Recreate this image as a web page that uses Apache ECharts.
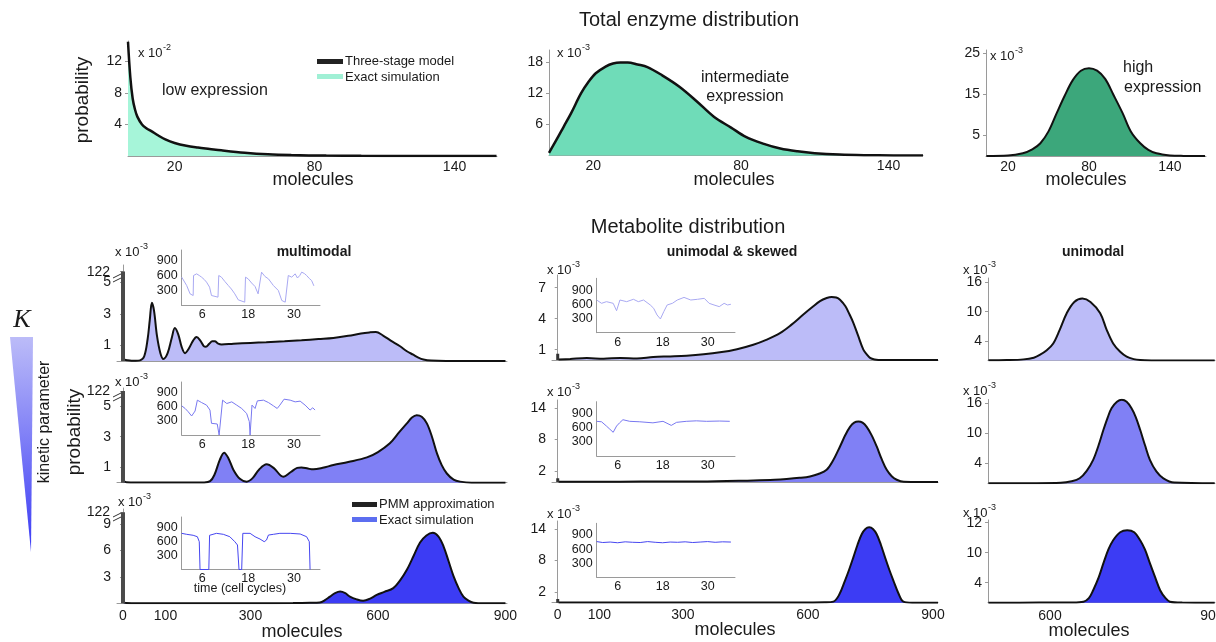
<!DOCTYPE html>
<html>
<head>
<meta charset="utf-8">
<title>Total enzyme and metabolite distributions</title>
<script src="https://cdn.jsdelivr.net/npm/echarts@6/dist/echarts.min.js"></script>
<style>
  html, body { margin: 0; padding: 0; background: #fff; }
  #chart { width: 1216px; height: 642px; }
</style>
</head>
<body>
<div id="chart"></div>
<script>
// ---- total enzyme distribution (probability in units of the axis factor) ----
var lowM  = [0, 1, 2, 3, 4, 6, 8, 10, 13, 16, 20, 25, 30, 35, 40, 50, 60, 70, 85, 100, 120, 140, 158];
var lowP  = [14.5, 10.0, 7.3, 5.9, 5.0, 4.0, 3.5, 3.15, 2.6, 2.1, 1.65, 1.3, 1.08, 0.9, 0.72, 0.42, 0.22, 0.12, 0.05, 0.02, 0.01, 0, 0];
var midM  = [2, 5, 8, 11, 15, 18, 21, 25, 28, 31, 34, 38, 42, 48, 55, 62, 69, 76, 82, 89, 96, 103, 110, 120, 130, 142, 154];
var midP  = [0.5, 3.0, 5.6, 8.2, 12.0, 14.2, 15.9, 17.2, 17.8, 18.0, 18.0, 17.6, 17.1, 15.5, 13.3, 10.5, 7.5, 5.4, 3.6, 2.3, 1.35, 0.8, 0.45, 0.18, 0.06, 0.01, 0];
var highM = [4, 20, 31, 38, 44, 50, 56, 62, 68, 74, 80, 86, 92, 98, 105, 111, 118, 124, 130, 140, 150, 166];
var highP = [0, 0.1, 0.66, 1.6, 3.1, 6.0, 10.4, 14.7, 18.5, 20.8, 21.4, 20.8, 18.8, 15.0, 10.4, 6.0, 3.1, 1.5, 0.66, 0.15, 0.03, 0];

// ---- metabolite distribution, left column (multimodal) ----
var multi1M = [2, 10, 20, 30, 40, 50, 58, 63, 68, 73, 80, 88, 95, 105, 115, 122, 130, 138, 146, 155, 165, 173, 182, 190, 195, 203, 210, 216, 224, 232, 260, 300, 337, 380, 420, 460, 495, 530, 560, 580, 595, 612, 630, 652, 668, 683, 695, 707, 725, 760, 820, 900];
var multi1P = [0.1, 0.05, 0.02, 0.02, 0.04, 0.3, 1.4, 2.6, 3.7, 3.2, 1.6, 0.5, 0.13, 0.5, 1.5, 2.1, 1.7, 0.9, 0.5, 0.8, 1.3, 1.53, 1.3, 0.95, 0.9, 1.1, 1.25, 1.25, 1.1, 1.05, 1.1, 1.15, 1.19, 1.25, 1.32, 1.4, 1.47, 1.6, 1.75, 1.82, 1.85, 1.62, 1.3, 0.94, 0.62, 0.4, 0.22, 0.1, 0.03, 0, 0, 0];
var multi2M = [2, 8, 20, 60, 100, 150, 190, 205, 215, 228, 238, 248, 260, 275, 291, 305, 320, 338, 355, 377, 395, 410, 420, 435, 448, 470, 495, 530, 574, 600, 628, 650, 668, 680, 691, 703, 715, 727, 739, 750, 762, 778, 793, 820, 900];
var multi2P = [0.1, 0.03, 0.02, 0.01, 0.01, 0.01, 0.02, 0.1, 0.5, 1.5, 1.96, 1.6, 0.83, 0.25, 0.07, 0.3, 0.85, 1.2, 0.95, 0.39, 0.7, 0.97, 1.0, 0.92, 0.87, 0.97, 1.15, 1.35, 1.65, 2.0, 2.57, 3.3, 3.87, 4.25, 4.4, 4.3, 3.87, 3.0, 1.9, 1.15, 0.6, 0.2, 0.07, 0, 0];
var multi3M = [2, 8, 20, 100, 200, 300, 400, 440, 463, 475, 487, 499, 511, 523, 534, 550, 565, 580, 597, 615, 636, 652, 668, 684, 699, 714, 729, 742, 754, 766, 778, 790, 801, 813, 825, 850, 900];
var multi3P = [0.1, 0.02, 0.01, 0.01, 0.01, 0.01, 0.02, 0.05, 0.1, 0.35, 0.76, 1.15, 1.33, 1.15, 0.76, 0.45, 0.3, 0.5, 0.95, 1.3, 1.72, 2.6, 3.8, 5.4, 6.9, 7.7, 8.0, 7.6, 6.5, 4.8, 3.06, 1.7, 0.76, 0.3, 0.07, 0, 0];

// ---- middle column (unimodal & skewed) ----
var skew1M = [2, 30, 70, 110, 150, 190, 229, 270, 309, 350, 389, 430, 469, 500, 533, 560, 589, 610, 629, 645, 657, 668, 677, 690, 700, 709, 720, 733, 741, 749, 760, 780, 820, 912];
var skew1P = [0.05, 0.1, 0.19, 0.12, 0.2, 0.15, 0.29, 0.35, 0.42, 0.55, 0.74, 1.05, 1.48, 1.95, 2.6, 3.4, 4.4, 5.1, 5.7, 6.0, 6.1, 6.05, 5.84, 5.2, 4.4, 3.6, 2.4, 1.0, 0.55, 0.2, 0.05, 0, 0, 0];
var skew2M = [2, 100, 200, 340, 469, 520, 549, 580, 605, 625, 645, 660, 677, 690, 701, 711, 721, 731, 741, 753, 765, 777, 789, 801, 813, 830, 870, 912];
var skew2P = [0.05, 0.05, 0.08, 0.1, 0.3, 0.42, 0.56, 0.78, 1.05, 1.5, 2.3, 4.0, 6.7, 8.9, 10.4, 11.2, 11.4, 11.2, 10.4, 8.8, 6.7, 4.3, 2.3, 1.1, 0.43, 0.05, 0, 0];
var skew3M = [2, 200, 400, 600, 640, 661, 675, 689, 699, 709, 719, 729, 738, 747, 756, 765, 775, 785, 795, 805, 817, 829, 850, 912];
var skew3P = [0.05, 0.05, 0.05, 0.05, 0.08, 0.2, 1.5, 4.2, 6.3, 8.6, 11.0, 13.0, 14.0, 14.3, 14.0, 13.0, 11.0, 8.6, 6.3, 4.2, 1.8, 0.2, 0, 0];

// ---- right column (unimodal) ----
var uni1M = [486, 520, 551, 570, 581, 594, 606, 618, 631, 645, 660, 675, 693, 705, 717, 730, 742, 755, 767, 790, 830, 905];
var uni1P = [0.05, 0.1, 0.25, 0.6, 1.15, 2.1, 3.5, 6.3, 9.7, 12.0, 12.7, 12.0, 9.7, 6.3, 3.5, 1.8, 0.8, 0.3, 0.1, 0.02, 0, 0];
var uni2M = [486, 560, 620, 640, 655, 668, 680, 690, 699, 707, 714, 724, 733, 742, 751, 759, 767, 776, 785, 797, 810, 830, 905];
var uni2P = [0, 0.02, 0.1, 0.4, 1.0, 2.5, 4.7, 7.6, 10.7, 13.2, 15.0, 16.3, 16.7, 16.3, 15.0, 13.2, 10.7, 7.6, 4.7, 2.4, 1.0, 0.15, 0];
var uni3M = [486, 580, 640, 662, 672, 680, 690, 699, 708, 717, 730, 743, 756, 767, 776, 785, 795, 804, 814, 822, 845, 905];
var uni3P = [0, 0.02, 0.05, 0.2, 0.9, 2.5, 5.0, 7.9, 10.6, 12.5, 14.1, 14.5, 14.1, 12.5, 10.6, 7.9, 5.0, 2.5, 0.9, 0.2, 0.02, 0];

// spike at zero molecules (left column values sit above the axis break)
var spikeLeft = [122, 122, 122];
var spikeMid  = [0.6, 0.7, 0.7];

// ---- inset time courses (time in cell cycles, molecules) ----
var ins1T = [0.6, 1.9, 2.8, 3.6, 3.7, 4.5, 5.2, 5.8, 6.5, 7.1, 7.9, 8.4, 10.1, 10.3, 11, 11.9, 12.8, 13.6, 14.5, 15.4, 17.1, 17.3, 18, 18.9, 19.8, 20.6, 21.5, 22.4, 23.3, 24.6, 25.9, 26.8, 27.7, 28.5, 29.4, 30.3, 30.9, 31.5, 32, 32.7, 33.3, 34.0, 34.6, 35.2];
var ins1V = [567, 400, 233, 200, 600, 633, 600, 567, 520, 467, 367, 200, 167, 600, 567, 480, 400, 330, 233, 113, 67, 567, 533, 450, 380, 233, 667, 580, 533, 400, 300, 100, 67, 600, 567, 633, 550, 600, 667, 640, 600, 540, 500, 393];
var ins2T = [0.6, 1.5, 2.3, 3.2, 3.7, 4.1, 4.7, 5.8, 7.1, 8.0, 8.4, 9.9, 10.2, 10.4, 10.8, 11.3, 12.4, 13.7, 15, 16.3, 17.6, 18.3, 18.5, 18.8, 19, 19.8, 20.4, 22, 23.3, 24.6, 25.6, 26.3, 27.4, 29, 30.3, 31.6, 32.9, 34.2, 34.9, 35.5];
var ins2V = [625, 568, 498, 407, 407, 513, 746, 695, 640, 534, 250, 236, 236, 0, 0, 746, 674, 710, 640, 568, 462, 286, 0, 0, 640, 568, 731, 746, 695, 625, 568, 640, 767, 746, 710, 725, 640, 534, 583, 534];
var ins3T = [0.6, 1.9, 3.6, 4.7, 5.2, 5.4, 7.7, 7.9, 9.7, 11.5, 13.2, 14.5, 15.2, 15.4, 15.6, 16.3, 16.6, 18.5, 19.8, 21.1, 22.2, 22.8, 23.3, 24.6, 26.3, 29, 31.6, 33.3, 34, 34.2];
var ins3V = [779, 758, 737, 706, 599, 0, 0, 737, 779, 758, 706, 599, 528, 510, 0, 0, 779, 779, 706, 656, 599, 635, 742, 758, 779, 779, 765, 706, 599, 0];
var ins4T = [0.4, 1.7, 3, 4.8, 5.7, 6.6, 8.4, 10.2, 11.5, 12.9, 14.7, 15.6, 16.5, 17.4, 18.3, 19.2, 20.6, 21.9, 23.7, 25.5, 27.3, 29.1, 30.4, 31.7, 33.1, 34.4, 35.3, 36.2];
var ins4V = [690, 620, 655, 620, 464, 690, 655, 705, 655, 690, 585, 515, 374, 290, 445, 585, 620, 690, 745, 690, 705, 725, 620, 585, 550, 620, 585, 600];
var ins5T = [0.4, 1.7, 3, 3.9, 4.8, 5.2, 5.7, 6.5, 7.4, 9.2, 11.9, 15.4, 18.1, 20.3, 21.7, 24.3, 27, 29.7, 33.2, 35.9];
var ins5V = [732, 722, 632, 566, 500, 540, 632, 700, 766, 732, 722, 700, 732, 646, 710, 732, 742, 732, 738, 732];
var ins6T = [0.4, 2, 4, 6, 8, 10, 12, 14, 16, 18, 20, 22, 24, 26, 28, 30, 32, 34, 36.2];
var ins6V = [760, 740, 750, 735, 755, 745, 740, 760, 745, 735, 750, 745, 755, 740, 750, 760, 745, 755, 750];

// tick labels
var enzymeTicks = [20, 80, 140];
var moleculeTicks = [0, 100, 300, 600, 900];
var rightTicks = [600, 900];
var insetXTicks = [6, 18, 30];
var insetYTicks = [300, 600, 900];

var FONT = '"Liberation Sans", Arial, sans-serif';
var INK = '#1a1a1a';
var AXIS = '#9a9a9a';

var grids = [], xAxes = [], yAxes = [], series = [], graphics = [];

function pairs(xs, ys) {
  return xs.map(function (x, i) { return [x, ys[i]]; });
}

// p: pixel box (l, r, t, b) and value ranges
function addPanel(p) {
  var gi = grids.length;
  grids.push({ left: p.l, top: p.t, width: p.r - p.l, height: p.b - p.t, containLabel: false, outerBoundsMode: 'none' });
  xAxes.push({
    gridIndex: gi, type: 'value', min: p.xmin, max: p.xmax, splitLine: { show: false },
    axisLine: { show: true, onZero: false, lineStyle: { color: AXIS, width: 1 } },
    axisTick: { show: false },
    axisLabel: p.xTicks ? { customValues: p.xTicks, margin: p.xMargin || 5, color: INK, fontSize: p.fs || 14, fontFamily: FONT, hideOverlap: false } : { show: false }
  });
  yAxes.push({
    gridIndex: gi, type: 'value', min: 0, max: p.ymax, splitLine: { show: false },
    axisLine: { show: true, lineStyle: { color: AXIS, width: 1 } },
    axisTick: { show: !p.inset, customValues: p.yTicks, length: 3, lineStyle: { color: AXIS } },
    axisLabel: { customValues: p.yTicks, formatter: p.yFmt, margin: p.inset ? 4 : 6, color: INK, fontSize: p.fs || 14, fontFamily: FONT, hideOverlap: false }
  });
  return gi;
}

function addArea(gi, xs, ys, fill, lw) {
  series.push({
    type: 'line', xAxisIndex: gi, yAxisIndex: gi, data: pairs(xs, ys),
    smooth: 0.35, symbol: 'none', silent: true, z: 3,
    lineStyle: { color: '#111', width: lw || 2 },
    areaStyle: { color: fill, opacity: 1 }
  });
}

function addSpike(gi, v, w, color) {
  series.push({
    type: 'line', xAxisIndex: gi, yAxisIndex: gi, data: [[0, 0], [0, v]],
    symbol: 'none', silent: true, z: 4, lineStyle: { color: color, width: w, cap: 'butt' }
  });
}

function addTrace(gi, xs, ys, color) {
  series.push({
    type: 'line', xAxisIndex: gi, yAxisIndex: gi, data: pairs(xs, ys),
    symbol: 'none', silent: true, z: 3, lineStyle: { color: color, width: 1 }
  });
}

function txt(s, x, y, font, align, extra) {
  var g = { type: 'text', x: x, y: y, silent: true,
    style: { text: s, font: font, fill: INK, textAlign: align || 'center', textVerticalAlign: 'middle' } };
  if (extra) for (var k in extra) g[k] = extra[k];
  graphics.push(g);
}

function sci(x, y, exp) {
  txt('x 10', x, y, '13px ' + FONT, 'left');
  txt(exp, x + 25, y - 5, '9px ' + FONT, 'left');
}

function breakMark(x, y) {
  [0, 4].forEach(function (d) {
    graphics.push({ type: 'line', silent: true, shape: { x1: x - 4, y1: y + d + 2, x2: x + 4, y2: y + d - 2 }, style: { stroke: '#333', lineWidth: 1 } });
  });
}

// value shown at the top of a broken axis
function brk(v, shown) { return v > shown ? shown : v; }

// ---------------- top row ----------------
var g = addPanel({ l: 128, r: 497, t: 41, b: 156, xmin: 0, xmax: 158.2, ymax: 14.6, xTicks: enzymeTicks, yTicks: [4, 8, 12], xMargin: 4 });
addArea(g, lowM, lowP, '#a6f5d9', 2.5);
g = addPanel({ l: 549, r: 923, t: 50, b: 155.5, xmin: 2, xmax: 154, ymax: 20.4, xTicks: enzymeTicks, yTicks: [6, 12, 18], xMargin: 4 });
addArea(g, midM, midP, '#6fdcb8', 2.5);
g = addPanel({ l: 986, r: 1206, t: 50, b: 156, xmin: 3.7, xmax: 166.7, ymax: 25.85, xTicks: enzymeTicks, yTicks: [5, 15, 25], xMargin: 4 });
addArea(g, highM, highP, '#3ca77b', 2);

// ---------------- metabolite rows ----------------
var fills = ['#bcbcf8', '#8080f5', '#3c3cf4'];
var traces = ['#a9a9f2', '#7878f0', '#4646f0'];
var leftShown = [5.7, 5.98, 10.33];

// left column
g = addPanel({ l: 117, r: 507, t: 265, b: 361, xmin: -14.1, xmax: 903.6, ymax: 6.11, yTicks: [1, 3, 5, leftShown[0]], yFmt: function (v) { return v > 5.5 ? '' : String(v); } });
addArea(g, multi1M, multi1P, fills[0]);
addSpike(g, brk(spikeLeft[0], leftShown[0]), 4, '#4a4a4a');
g = addPanel({ l: 117, r: 507, t: 388, b: 482.7, xmin: -14.1, xmax: 903.6, ymax: 6.18, yTicks: [1, 3, 5, leftShown[1]], yFmt: function (v) { return v > 5.5 ? '' : String(v); } });
addArea(g, multi2M, multi2P, fills[1]);
addSpike(g, brk(spikeLeft[1], leftShown[1]), 4, '#4a4a4a');
g = addPanel({ l: 117, r: 507, t: 509, b: 603.3, xmin: -14.1, xmax: 903.6, ymax: 10.7, yTicks: [3, 6, 9, leftShown[2]], yFmt: function (v) { return v > 10 ? '' : String(v); }, xTicks: moleculeTicks, xMargin: 6 });
addArea(g, multi3M, multi3P, fills[2]);
addSpike(g, brk(spikeLeft[2], leftShown[2]), 4, '#4a4a4a');

// middle column
g = addPanel({ l: 552, r: 938, t: 275, b: 360, xmin: -13.7, xmax: 912, ymax: 8.23, yTicks: [1, 4, 7] });
addArea(g, skew1M, skew1P, fills[0]);
addSpike(g, spikeMid[0], 3, '#333');
g = addPanel({ l: 552, r: 938, t: 400, b: 482, xmin: -13.7, xmax: 912, ymax: 15.47, yTicks: [2, 8, 14] });
addArea(g, skew2M, skew2P, fills[1]);
addSpike(g, spikeMid[1], 3, '#333');
g = addPanel({ l: 552, r: 938, t: 521, b: 602.7, xmin: -13.7, xmax: 912, ymax: 15.5, yTicks: [2, 8, 14], xTicks: moleculeTicks, xMargin: 5 });
addArea(g, skew3M, skew3P, fills[2]);
addSpike(g, spikeMid[2], 3, '#333');

// right column
g = addPanel({ l: 988, r: 1215, t: 278, b: 360.6, xmin: 485.2, xmax: 905.6, ymax: 16.9, yTicks: [4, 10, 16] });
addArea(g, uni1M, uni1P, fills[0]);
g = addPanel({ l: 988, r: 1215, t: 399.5, b: 483.3, xmin: 485.2, xmax: 905.6, ymax: 16.76, yTicks: [4, 10, 16] });
addArea(g, uni2M, uni2P, fills[1]);
g = addPanel({ l: 988, r: 1215, t: 520, b: 602.7, xmin: 485.2, xmax: 905.6, ymax: 16.54, yTicks: [4, 10, 16],
  yFmt: function (v) { return v === 16 ? '12' : String(v); }, xTicks: rightTicks, xMargin: 6 });
addArea(g, uni3M, uni3P, fills[2]);

// insets
function addInset(l, t, b, xmin, xmax, ymax, ts, vs, color) {
  var gi = addPanel({ l: l, r: l + 138.3, t: t, b: b, xmin: xmin, xmax: xmax, ymax: ymax, xTicks: insetXTicks, yTicks: insetYTicks, inset: true, fs: 12.5, xMargin: 3 });
  addTrace(gi, ts, vs, color);
}
addInset(181.7, 250, 305.5, 0.6, 36.8, 1110, ins1T, ins1V, traces[0]);
addInset(181.7, 382, 435, 0.6, 36.8, 1135, ins2T, ins2V, traces[1]);
addInset(181.7, 517, 569.5, 0.6, 36.8, 1131, ins3T, ins3V, traces[2]);
addInset(596.7, 278.3, 332.7, 0.4, 37.3, 1148, ins4T, ins4V, traces[0]);
addInset(596.7, 401.7, 456, 0.4, 37.3, 1146, ins5T, ins5V, traces[1]);
addInset(596.7, 523.3, 577.3, 0.4, 37.3, 1149, ins6T, ins6V, traces[2]);

// ---------------- texts ----------------
txt('Total enzyme distribution', 689, 20, '20px ' + FONT);
txt('Metabolite distribution', 688, 227, '20px ' + FONT);
txt('probability', 83, 100, '19px ' + FONT, 'center', { rotation: Math.PI / 2 });
txt('probability', 75, 432, '19px ' + FONT, 'center', { rotation: Math.PI / 2 });
txt('molecules', 313, 180, '18px ' + FONT);
txt('molecules', 734, 180, '18px ' + FONT);
txt('molecules', 1086, 180, '18px ' + FONT);
txt('molecules', 302, 632, '18px ' + FONT);
txt('molecules', 735, 630, '18px ' + FONT);
txt('molecules', 1089, 631, '18px ' + FONT);

// top value of each broken axis
txt('122', 110, 272, '14px ' + FONT, 'right');
txt('122', 110, 391, '14px ' + FONT, 'right');
txt('122', 110, 512, '14px ' + FONT, 'right');

txt('low expression', 162, 91, '16px ' + FONT, 'left');
txt('intermediate', 745, 78, '16px ' + FONT);
txt('expression', 745, 97, '16px ' + FONT);
txt('high', 1123, 68, '16px ' + FONT, 'left');
txt('expression', 1124, 88, '16px ' + FONT, 'left');

txt('multimodal', 314, 252, 'bold 14px ' + FONT);
txt('unimodal & skewed', 732, 252, 'bold 14px ' + FONT);
txt('unimodal', 1093, 252, 'bold 14px ' + FONT);
txt('time (cell cycles)', 240, 589, '12.5px ' + FONT);

sci(138, 53, '-2');
sci(557, 53, '-3');
sci(990, 56, '-3');
sci(115, 252, '-3');
sci(115, 382, '-3');
sci(118, 502, '-3');
sci(547, 270, '-3');
sci(547, 392, '-3');
sci(547, 514, '-3');
sci(963, 270, '-3');
sci(963, 391, '-3');
sci(963, 513, '-3');

breakMark(117, 276);
breakMark(117, 395);
breakMark(117, 515);

// legends
graphics.push({ type: 'rect', silent: true, shape: { x: 317, y: 59, width: 26, height: 5 }, style: { fill: '#222' } });
graphics.push({ type: 'rect', silent: true, shape: { x: 317, y: 74, width: 26, height: 5 }, style: { fill: '#a0f0d5' } });
txt('Three-stage model', 345, 61.5, '13px ' + FONT, 'left');
txt('Exact simulation', 345, 77, '13px ' + FONT, 'left');
graphics.push({ type: 'rect', silent: true, shape: { x: 352, y: 502, width: 25, height: 5 }, style: { fill: '#222' } });
graphics.push({ type: 'rect', silent: true, shape: { x: 352, y: 517, width: 25, height: 5 }, style: { fill: '#5c6ef0' } });
txt('PMM approximation', 379, 504.5, '13px ' + FONT, 'left');
txt('Exact simulation', 379, 520, '13px ' + FONT, 'left');

// kinetic parameter wedge
txt('K', 22, 320, 'italic 26px "Liberation Serif", serif');
graphics.push({
  type: 'polygon', silent: true,
  shape: { points: [[10, 337], [33, 337], [31, 552]] },
  style: { fill: new echarts.graphic.LinearGradient(0, 0, 0, 1, [
    { offset: 0, color: '#bcbcf8' }, { offset: 1, color: '#3a3af5' }]) }
});
txt('kinetic parameter', 45, 422, '16px ' + FONT, 'center', { rotation: Math.PI / 2 });

var chart = echarts.init(document.getElementById('chart'), null, { renderer: 'canvas' });
chart.setOption({
  animation: false,
  backgroundColor: '#fff',
  textStyle: { fontFamily: FONT },
  grid: grids,
  xAxis: xAxes,
  yAxis: yAxes,
  series: series,
  graphic: graphics
});
</script>
</body>
</html>
